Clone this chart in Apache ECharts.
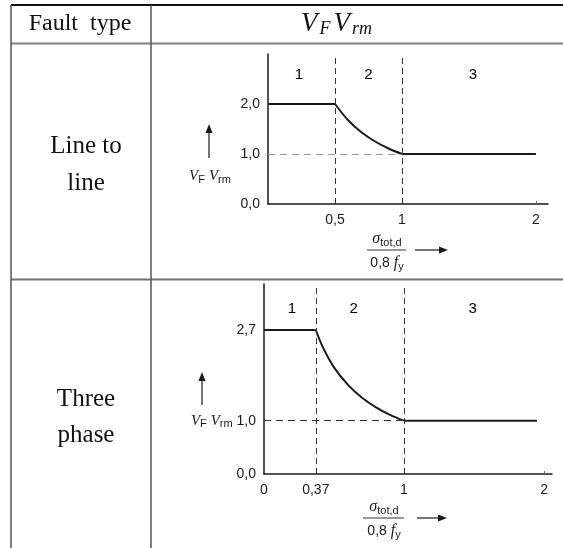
<!DOCTYPE html>
<html>
<head>
<meta charset="utf-8">
<script src="https://cdn.jsdelivr.net/npm/echarts@6/dist/echarts.min.js"></script>
<style>
html, body { margin: 0; padding: 0; background: #ffffff; }
#chart { width: 563px; height: 548px; }
</style>
</head>
<body>
<div id="chart"></div>
<script>
// ---- Line-to-line fault: factor against stress ratio ----
const l2lFlatX  = [0, 0.5];
const l2lFlatY  = [2.0, 2.0];
const l2lCurveX = [0.5, 0.6, 0.7, 0.8, 0.9, 1.0];
const l2lCurveY = [2.0, 1.67, 1.43, 1.25, 1.11, 1.0];
const l2lTailX  = [1.0, 2.0];
const l2lTailY  = [1.0, 1.0];
const l2lBounds = [0.5, 1];
const l2lXTicks = [0.5, 1, 2];
const l2lYTicks = [0, 1, 2];
const l2lZoneX  = [0.23, 0.75, 1.53];
const l2lZoneY  = 2.58;

// ---- Three-phase fault ----
const tpFlatX  = [0, 0.37];
const tpFlatY  = [2.7, 2.7];
const tpCurveX = [0.37, 0.42, 0.5, 0.6, 0.7, 0.8, 0.9, 1.0];
const tpCurveY = [2.7, 2.38, 2.0, 1.67, 1.43, 1.25, 1.11, 1.0];
const tpTailX  = [1.0, 1.95];
const tpTailY  = [1.0, 1.0];
const tpBounds = [0.37, 1];
const tpXTicks = [0, 0.37, 1, 2];
const tpYTicks = [0, 1, 2.7];
const tpZoneX  = [0.2, 0.64, 1.49];
const tpZoneY  = 3.09;

const zoneNames = ['1', '2', '3'];

const SANS = 'Liberation Sans, Arial, sans-serif';
const SERIF = 'Liberation Serif, Times New Roman, serif';
const INK = '#1a1a1a';

const pairs = (xs, ys) => xs.map((x, i) => [x, ys[i]]);
const commaNum = (v, digits) => (digits == null ? String(v) : v.toFixed(digits)).replace('.', ',');

function xAxisFor(gridIndex, max, ticks) {
  return {
    type: 'value', gridIndex, min: 0, max,
    axisLine: { show: true, lineStyle: { color: INK, width: 1.5 } },
    axisTick: { show: true, inside: true, length: 3, customValues: [2], lineStyle: { color: '#666' } },
    splitLine: { show: false },
    axisLabel: {
      customValues: ticks, margin: 9, fontSize: 14, color: '#1a1a1a', fontFamily: SANS,
      formatter: v => commaNum(v)
    }
  };
}

function yAxisFor(gridIndex, max, ticks, withName) {
  return {
    type: 'value', gridIndex, min: 0, max,
    axisLine: { show: true, lineStyle: { color: INK, width: 1.5 } },
    axisTick: { show: false },
    splitLine: { show: false },
    axisLabel: {
      customValues: ticks, margin: 8, fontSize: 14, color: '#1a1a1a', fontFamily: SANS,
      formatter: v => (withName && v === 1)
        ? '{v|V}{s|F} {v|V}{s|rm} ' + commaNum(v, 1)
        : commaNum(v, 1),
      rich: {
        v: { fontFamily: SERIF, fontStyle: 'italic', fontSize: 15, color: '#1a1a1a' },
        s: { fontFamily: SANS, fontSize: 11, color: '#1a1a1a', padding: [7, 0, 0, 0] }
      }
    }
  };
}

function lineSeries(axisIndex, data, smooth) {
  return {
    type: 'line', xAxisIndex: axisIndex, yAxisIndex: axisIndex,
    data, smooth: smooth ? 0.35 : false,
    symbol: 'none', silent: true,
    lineStyle: { color: INK, width: 2 }
  };
}

function guideSeries(axisIndex, bounds, hColor) {
  return {
    type: 'line', xAxisIndex: axisIndex, yAxisIndex: axisIndex, data: [],
    silent: true,
    markLine: {
      symbol: 'none', silent: true, animation: false,
      label: { show: false },
      lineStyle: { type: [6, 4], color: '#333', width: 1 },
      data: [
        { xAxis: bounds[0] },
        { xAxis: bounds[1] },
        [
          { coord: [0, 1], lineStyle: { type: [7, 5], color: hColor, width: 1 } },
          { coord: [bounds[1], 1] }
        ]
      ]
    }
  };
}

function zoneSeries(axisIndex, xs, y) {
  return {
    type: 'scatter', xAxisIndex: axisIndex, yAxisIndex: axisIndex,
    symbolSize: 1, silent: true,
    itemStyle: { opacity: 0 },
    data: xs.map((x, i) => ({ value: [x, y], name: zoneNames[i] })),
    label: {
      show: true, position: 'inside', formatter: p => p.name,
      fontSize: 15, color: '#000', fontFamily: SANS, opacity: 1
    }
  };
}

// ---- decorations: table rules, row texts, axis arrows and fraction labels ----
const ruleColor = '#555';
function hline(x1, x2, y, color, w) {
  return { type: 'line', shape: { x1, y1: y, x2, y2: y }, style: { stroke: color, lineWidth: w }, silent: true };
}
function vline(x, y1, y2, color, w) {
  return { type: 'line', shape: { x1: x, y1, x2: x, y2 }, style: { stroke: color, lineWidth: w }, silent: true };
}
function label(text, x, y, font, rich) {
  return {
    type: 'text', x, y, silent: true,
    style: { text, font, fill: '#111', align: 'center', verticalAlign: 'middle', rich }
  };
}
function arrowUp(x, yBottom, yTip) {
  return [
    vline(x, yBottom, yTip + 7, INK, 1.2),
    { type: 'polygon', shape: { points: [[x, yTip], [x - 3.5, yTip + 9], [x + 3.5, yTip + 9]] }, style: { fill: INK }, silent: true }
  ];
}
function arrowRight(xStart, xTip, y) {
  return [
    hline(xStart, xTip - 7, y, INK, 1.2),
    { type: 'polygon', shape: { points: [[xTip, y], [xTip - 9, y - 3.5], [xTip - 9, y + 3.5]] }, style: { fill: INK }, silent: true }
  ];
}
const symRich = {
  v: { fontFamily: SERIF, fontStyle: 'italic', fontSize: 15, fill: '#1a1a1a' },
  g: { fontFamily: SERIF, fontStyle: 'italic', fontSize: 16, fill: '#1a1a1a' },
  n: { fontFamily: SANS, fontSize: 14, fill: '#1a1a1a' },
  f: { fontFamily: SERIF, fontStyle: 'italic', fontSize: 16, fill: '#1a1a1a' },
  s: { fontFamily: SANS, fontSize: 11, fill: '#1a1a1a', padding: [7, 0, 0, 0] }
};
function fraction(cx, yBar, x1, x2) {
  return [
    hline(x1, x2, yBar, '#333', 1),
    label('{g|σ}{s|tot,d}', cx, yBar - 11, '14px ' + SANS, symRich),
    label('{n|0,8 }{f|f}{s|y}', cx, yBar + 13, '14px ' + SANS, symRich)
  ];
}
const headRich = {
  V: { fontFamily: SERIF, fontStyle: 'italic', fontSize: 27, fill: '#111' },
  S: { fontFamily: SERIF, fontStyle: 'italic', fontSize: 18, fill: '#111', padding: [11, 3, 0, 2] }
};

const graphics = [
  hline(11, 563, 5, '#111', 2),
  hline(11, 563, 43.5, '#808080', 2),
  hline(11, 563, 279.5, '#707070', 2),
  vline(11, 5, 548, ruleColor, 1.5),
  vline(151, 5, 548, ruleColor, 1.5),
  label('Fault  type', 80, 24, '24px ' + SERIF),
  label('{V|V}{S|F}{V|V}{S|rm}', 338, 24, '24px ' + SERIF, headRich),
  label('Line to', 86, 146, '25px ' + SERIF),
  label('line', 86, 183, '25px ' + SERIF),
  label('Three', 86, 399, '25px ' + SERIF),
  label('phase', 86, 435, '25px ' + SERIF),
  ...arrowUp(209, 158, 124),
  label('{v|V}{s|F} {v|V}{s|rm}', 210, 176, '14px ' + SANS, symRich),
  ...arrowUp(202, 405, 372),
  ...fraction(387, 250, 367, 406),
  ...arrowRight(415, 448, 250),
  ...fraction(384, 518, 363, 404),
  ...arrowRight(417, 447, 518)
];

const chart = echarts.init(document.getElementById('chart'), null, { renderer: 'canvas' });
chart.setOption({
  animation: false,
  backgroundColor: '#ffffff',
  grid: [
    { left: 268, top: 54, width: 280, height: 150 },
    { left: 264, top: 284, width: 288, height: 190 }
  ],
  xAxis: [
    xAxisFor(0, 2.09, l2lXTicks),
    xAxisFor(1, 2.057, tpXTicks)
  ],
  yAxis: [
    yAxisFor(0, 3.0, l2lYTicks, false),
    yAxisFor(1, 3.5625, tpYTicks, true)
  ],
  series: [
    guideSeries(0, l2lBounds, '#999'),
    lineSeries(0, pairs(l2lFlatX, l2lFlatY), false),
    lineSeries(0, pairs(l2lCurveX, l2lCurveY), true),
    lineSeries(0, pairs(l2lTailX, l2lTailY), false),
    zoneSeries(0, l2lZoneX, l2lZoneY),
    guideSeries(1, tpBounds, '#333'),
    lineSeries(1, pairs(tpFlatX, tpFlatY), false),
    lineSeries(1, pairs(tpCurveX, tpCurveY), true),
    lineSeries(1, pairs(tpTailX, tpTailY), false),
    zoneSeries(1, tpZoneX, tpZoneY)
  ],
  graphic: graphics
});
</script>
</body>
</html>
